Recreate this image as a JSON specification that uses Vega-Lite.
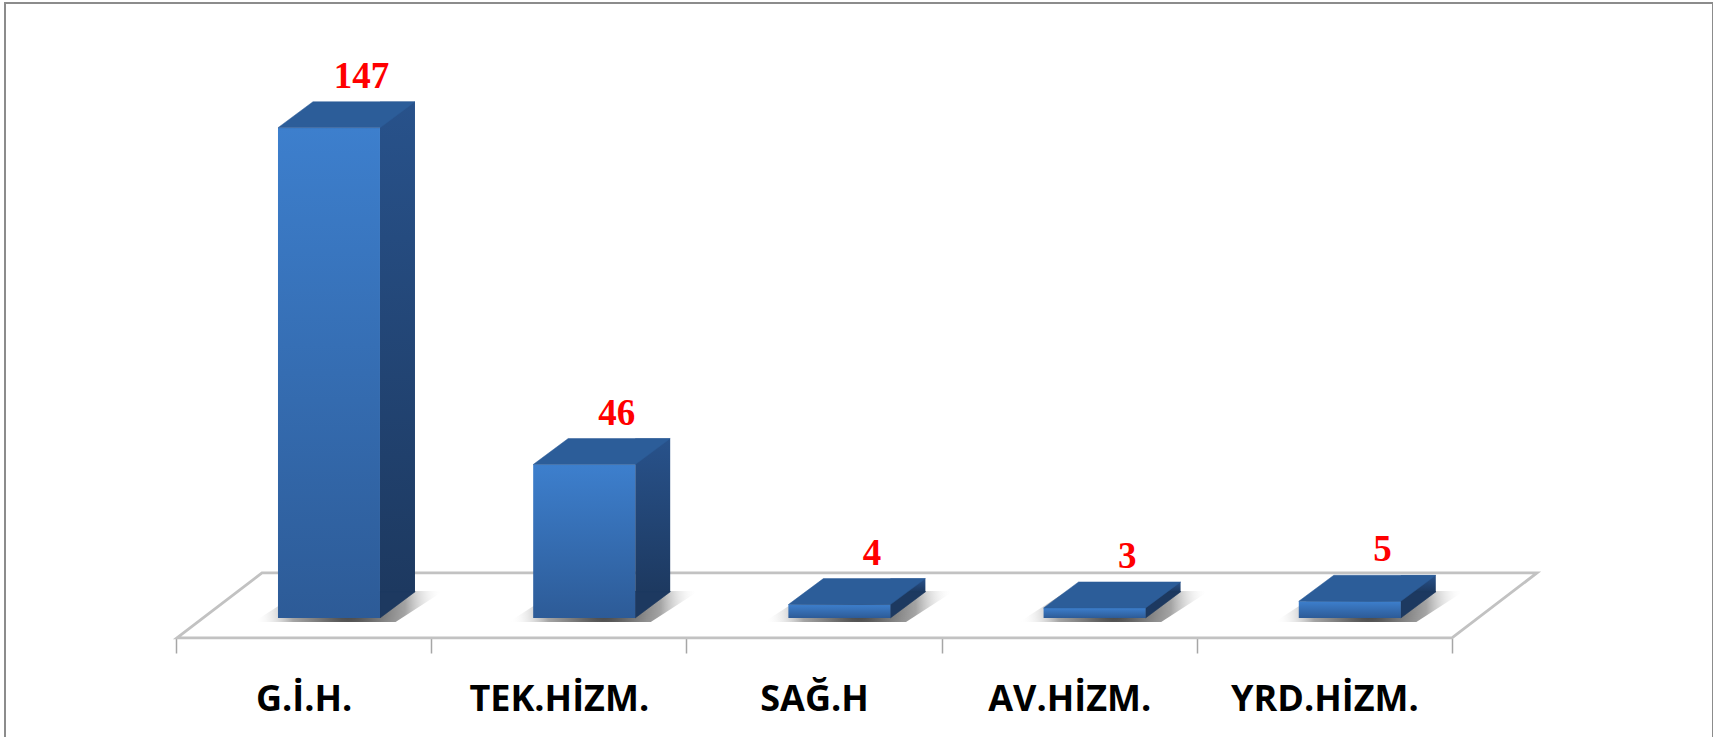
{
  "$schema": "https://vega.github.io/schema/vega-lite/v6.json",
  "width": 1708,
  "height": 742,
  "autosize": {"type": "none"},
  "padding": {"left": 5, "top": 3, "right": 0, "bottom": 0},
  "background": "#ffffff",
  "config": {
    "view": {"stroke": "#8c8c8c", "strokeWidth": 2},
    "axis": {"grid": false}
  },
  "data": {
    "values": [
      {"cat": "G.İ.H.", "value": 147},
      {"cat": "TEK.HİZM.", "value": 46},
      {"cat": "SAĞ.H", "value": 4},
      {"cat": "AV.HİZM.", "value": 3},
      {"cat": "YRD.HİZM.", "value": 5}
    ]
  },
  "encoding": {
    "x": {
      "field": "cat",
      "type": "nominal",
      "sort": null,
      "scale": {"paddingInner": 0, "paddingOuter": 0.8464, "align": 0.3958, "round": false},
      "axis": {
        "title": null,
        "labelAngle": 0,
        "labelFont": "Open Sans",
        "labelFontWeight": "bold",
        "labelFontSize": 36,
        "labelColor": "#000000",
        "labelBaseline": "alphabetic",
        "labelPadding": 57,
        "labelLimit": 500,
        "labelOverlap": false,
        "tickBand": "extent",
        "tickSize": 15,
        "tickColor": "#a6a6a6",
        "tickWidth": 1.5,
        "domain": false,
        "offset": -107
      }
    }
  },
  "layer": [
    {
      "transform": [{"filter": "datum.cat === 'G.İ.H.'"}],
      "mark": {"type": "point", "shape": "M -126.6 20 L 1148.4 20 L 1233.4 -45 L -41.6 -45 Z", "size": 4, "filled": false, "stroke": "#c2c2c2", "strokeWidth": 2.8, "opacity": 1},
      "encoding": {
        "y": {"datum": 0, "type": "quantitative", "scale": {"domain": [-38.1, 184.4], "nice": false, "zero": false}, "axis": null}
      }
    },
    {
      "mark": {
        "type": "point",
        "shape": "M -50 4 L 92 4 L 140 -27 L -2 -27 Z",
        "size": 4,
        "filled": true,
        "opacity": 1,
        "strokeWidth": 0,
        "fill": {"gradient": "radial", "x1": 0.5, "y1": 0.5, "r1": 0, "x2": 0.5, "y2": 0.5, "r2": 0.5,
          "stops": [{"offset": 0, "color": "rgba(40,40,40,0.95)"}, {"offset": 0.6, "color": "rgba(90,90,90,0.55)"}, {"offset": 1, "color": "rgba(255,255,255,0)"}]}
      },
      "encoding": {
        "y": {"datum": 0, "type": "quantitative"}
      }
    },
    {
      "mark": {
        "type": "bar", "width": 35, "xOffset": 93.9, "yOffset": -26, "y2Offset": -26,
        "color": {"gradient": "linear", "x1": 0, "y1": 0, "x2": 0, "y2": 1,
          "stops": [{"offset": 0, "color": "#28528b"}, {"offset": 1, "color": "#1d3960"}]}
      },
      "encoding": {
        "y": {"field": "value", "type": "quantitative"},
        "y2": {"datum": 0}
      }
    },
    {
      "mark": {"type": "point", "shape": "M 76.4 -26.3 L 111.6 -26.3 L 76.4 0 Z", "size": 4, "filled": true, "opacity": 1, "fill": "#1d3960", "stroke": "#1d3960", "strokeWidth": 0.6},
      "encoding": {
        "y": {"datum": 0, "type": "quantitative"}
      }
    },
    {
      "mark": {
        "type": "bar", "width": 102, "xOffset": 25.4,
        "color": {"gradient": "linear", "x1": 0, "y1": 0, "x2": 0, "y2": 1,
          "stops": [{"offset": 0, "color": "#3d7fcd"}, {"offset": 1, "color": "#2d5b97"}]}
      },
      "encoding": {
        "y": {"field": "value", "type": "quantitative"},
        "y2": {"datum": 0}
      }
    },
    {
      "mark": {"type": "point", "shape": "M -25.6 0 L 76.4 0 L 111.4 -26 L 9.4 -26 Z", "size": 4, "filled": true, "opacity": 1, "fill": "#2c5d99", "stroke": "#2c5d99", "strokeWidth": 0.5},
      "encoding": {
        "y": {"field": "value", "type": "quantitative"}
      }
    },
    {
      "mark": {"type": "text", "font": "Liberation Serif", "fontSize": 37, "fontWeight": "bold", "color": "#ff0000", "dx": 58, "dy": -40, "baseline": "alphabetic", "align": "center"},
      "encoding": {
        "y": {"field": "value", "type": "quantitative"},
        "text": {"field": "value", "type": "quantitative"}
      }
    }
  ]
}
